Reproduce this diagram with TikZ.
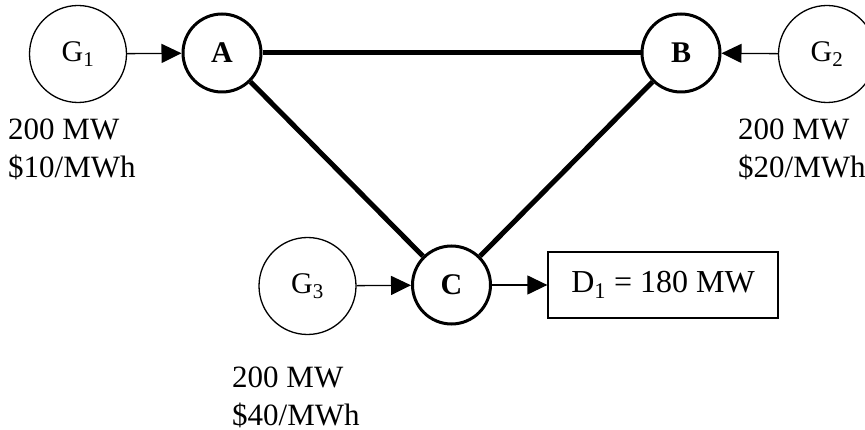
\documentclass[tikz,border=0pt]{standalone}
\usepackage{fontspec}
\setmainfont{Liberation Serif}
\usetikzlibrary{arrows.meta}
\begin{document}
\begin{tikzpicture}[x=1pt,y=-1pt,
  font=\fontsize{30}{38}\selectfont,
  gen/.style={circle,draw,line width=1.3pt,minimum size=97pt,inner sep=0pt},
  bus/.style={circle,draw,line width=3pt,minimum size=78pt,inner sep=0pt,font=\fontsize{30}{38}\selectfont\bfseries},
  load/.style={rectangle,draw,line width=1.3pt,minimum width=230pt,minimum height=66pt,inner sep=0pt,font=\fontsize{32}{38}\selectfont},
  info/.style={align=left,inner sep=0pt,anchor=base west,font=\fontsize{31}{38}\selectfont},
  flow/.style={line width=1.3pt,-{Triangle[length=20pt,width=19pt]}},
  tie/.style={line width=5pt}]
\useasboundingbox (0,0) rectangle (865,430);
\clip (0,0) rectangle (865,430);
\node[gen] (G1) at (78,54) {G\textsubscript{1}};
\node[gen] (G2) at (827,54) {G\textsubscript{2}};
\node[gen] (G3) at (307.5,286) {G\textsubscript{3}};
\node[bus] (A) at (222,53) {A};
\node[bus] (B) at (681,53) {B};
\node[bus] (C) at (451.5,285) {C};
\node[load] (D) at (663,285) {D\textsubscript{1} = 180 MW};
\node[info] (L1) at (8,178) {200 MW\\\$10/MWh};
\node[info] (L2) at (738,178) {200 MW\\\$20/MWh};
\node[info] (L3) at (232,425) {200 MW\\\$40/MWh};
\draw[tie] (A) -- (B);
\draw[tie] (A) -- (C);
\draw[tie] (B) -- (C);
\draw[flow] (G1) -- (A);
\draw[flow] (G2) -- (B);
\draw[flow] (G3) -- (C);
\draw[flow] (C) -- (D);
\end{tikzpicture}
\end{document}
